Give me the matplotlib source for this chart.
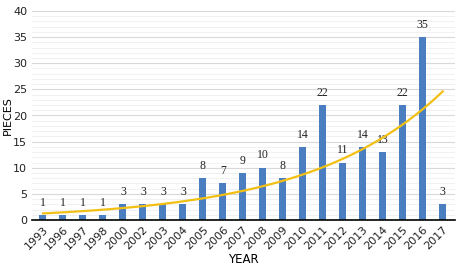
import numpy as np
import matplotlib
matplotlib.use("Agg")
import matplotlib.pyplot as plt
from matplotlib.ticker import MultipleLocator

# 연도별 건수
years = ["1993", "1996", "1997", "1998", "2000", "2002", "2003", "2004", "2005", "2006",
         "2007", "2008", "2009", "2010", "2011", "2012", "2013", "2014", "2015", "2016", "2017"]
pieces = [1, 1, 1, 1, 3, 3, 3, 3, 8, 7, 9, 10, 8, 14, 22, 11, 14, 13, 22, 35, 3]

bar_color = "#4a7ec0"
trend_color = "#f2c014"

fig = plt.figure(figsize=(4.57, 2.75), dpi=100)
ax = fig.add_axes([0.07, 0.2, 0.925, 0.76])

x = np.arange(len(years))
ax.bar(x, pieces, width=0.35, color=bar_color, zorder=3)

# 값 라벨
for xi, v in zip(x, pieces):
    ax.text(xi, v + 1.2, str(v), ha="center", va="bottom", fontsize=8.5,
            family="Liberation Serif", color="#222222", zorder=4)

# 지수 추세선 (엑셀 방식)
n = np.arange(1, len(pieces) + 1)
b, ln_a = np.polyfit(n, np.log(pieces), 1)
xs = np.linspace(1, len(pieces), 200)
ax.plot(xs - 1, np.exp(ln_a + b * xs), color=trend_color, lw=1.6, zorder=5)

ax.set_xlim(-0.55, 20.6)
ax.set_ylim(0, 40)
ax.yaxis.set_major_locator(MultipleLocator(5))
ax.yaxis.set_minor_locator(MultipleLocator(1))
ax.grid(axis="y", which="major", color="#d9d9d9", lw=0.8, zorder=0)
ax.grid(axis="y", which="minor", color="#efefef", lw=0.6, zorder=0)

ax.set_xticks(x)
ax.set_xticklabels(years, rotation=45, ha="right", rotation_mode="anchor", fontsize=8)
ax.tick_params(axis="both", length=0, labelsize=8, colors="#222222")
ax.tick_params(axis="x", pad=3, labelsize=8)
ax.tick_params(axis="y", which="minor", length=0)

for s in ["top", "right", "left"]:
    ax.spines[s].set_visible(False)
ax.spines["bottom"].set_color("black")
ax.spines["bottom"].set_linewidth(1.2)
ax.spines["bottom"].set_zorder(6)

ax.set_ylabel("PIECES", fontsize=8, labelpad=0)
ax.set_xlabel("YEAR", fontsize=8.5, labelpad=1)

fig.savefig("out.png", dpi=100)
